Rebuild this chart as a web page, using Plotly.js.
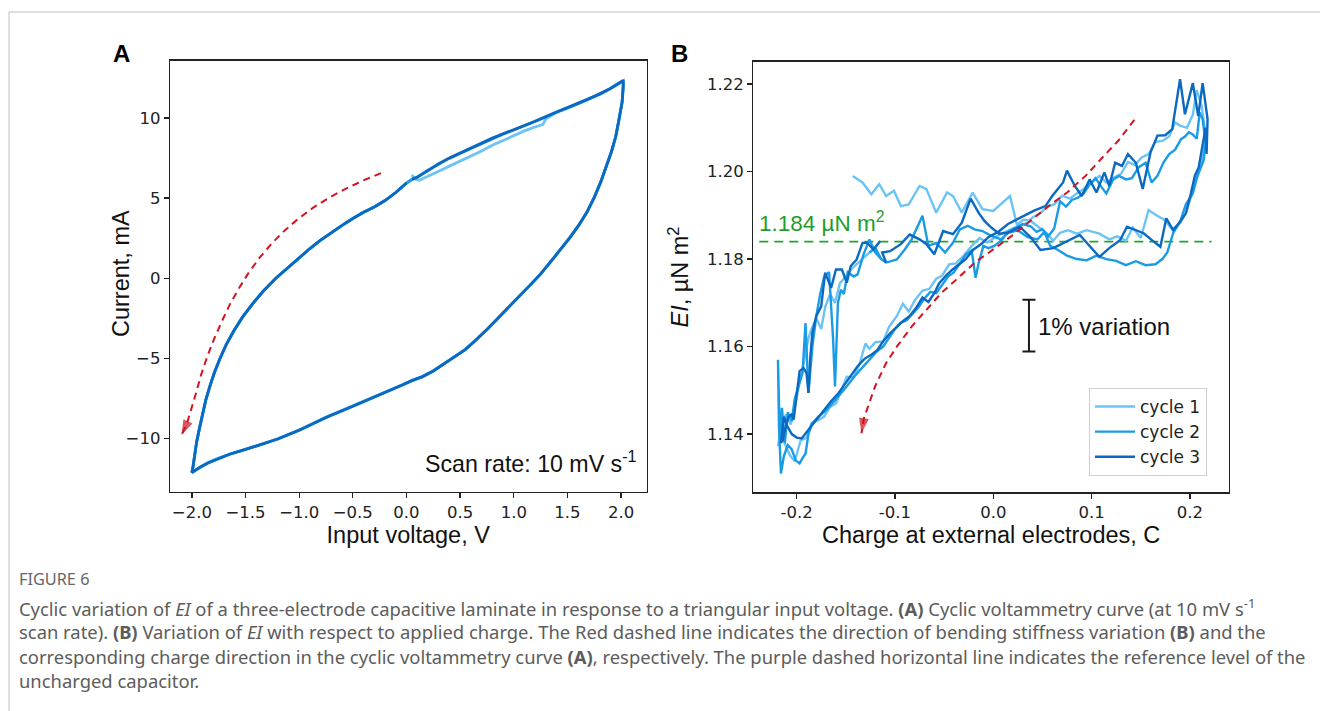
<!DOCTYPE html>
<html>
<head>
<meta charset="utf-8">
<script src="https://cdn.plot.ly/plotly-3.0.1.min.js"></script>
<style>html,body{margin:0;padding:0;background:#fff;}#chart{width:1320px;height:711px;}</style>
</head>
<body>
<div id="chart"></div>
<script>
// ---------------- Panel A: cyclic voltammetry (voltage V, current mA) ----------------
const cvCycle1 = [
 [0.05,6.45],[0.08,6.2],[0.12,6.12],[0.2,6.35],[0.3,6.68],[0.4,7.0],[0.5,7.3],[0.6,7.62],[0.7,7.95],[0.8,8.3],
 [0.9,8.6],[1.0,8.92],[1.1,9.2],[1.2,9.45],[1.27,9.6],[1.3,9.95],[1.4,10.36],[1.5,10.6],[1.6,10.88],[1.7,11.18],
 [1.8,11.48],[1.9,11.83],[1.97,12.12],[2.02,12.3],
 [2.02,11.95],[2.01,11.0],[1.98,9.85],[1.95,8.8],[1.91,7.9],[1.86,6.88],[1.81,6.0],[1.75,5.05],[1.68,4.12],[1.6,3.25],
 [1.52,2.52],[1.43,1.75],[1.35,1.05],[1.25,0.27],[1.15,-0.45],[1.05,-1.13],[0.95,-1.85],[0.85,-2.55],[0.75,-3.2],[0.65,-3.85],
 [0.55,-4.45],[0.45,-4.9],[0.35,-5.35],[0.25,-5.78],[0.15,-6.15],[0.05,-6.4],[-0.05,-6.7],[-0.25,-7.28],[-0.5,-7.98],[-0.75,-8.68],
 [-1.0,-9.48],[-1.2,-10.03],[-1.35,-10.38],[-1.5,-10.68],[-1.65,-10.98],[-1.75,-11.22],[-1.85,-11.52],[-1.92,-11.78],[-1.97,-11.98],[-2.0,-12.12],
 [-1.99,-11.8],[-1.975,-11.0],[-1.955,-10.2],[-1.93,-9.4],[-1.9,-8.5],[-1.87,-7.6],[-1.83,-6.7],[-1.79,-5.9],[-1.74,-5.05],[-1.68,-4.15],
 [-1.61,-3.3],[-1.53,-2.45],[-1.44,-1.65],[-1.34,-0.85],[-1.22,-0.02],[-1.1,0.7],[-1.0,1.28],[-0.9,1.85],[-0.8,2.38],[-0.7,2.85],
 [-0.6,3.3],[-0.5,3.73],[-0.4,4.12],[-0.3,4.45],[-0.2,4.85],[-0.1,5.35],[0.0,5.95],[0.05,6.2]
];
const cvCycle2 = [
 [0.05,6.2],[0.1,6.32],[0.2,6.74],[0.3,7.14],[0.4,7.5],[0.5,7.8],[0.6,8.1],[0.7,8.45],[0.8,8.74],[0.9,9.0],
 [1.0,9.26],[1.1,9.52],[1.2,9.8],[1.3,10.08],[1.4,10.38],[1.5,10.63],[1.6,10.9],[1.7,11.2],[1.8,11.5],[1.9,11.85],
 [1.97,12.15],[2.02,12.33],
 [2.02,12.0],[2.01,11.0],[1.98,9.9],[1.95,8.85],[1.91,7.9],[1.86,6.9],[1.81,6.0],[1.75,5.05],[1.68,4.1],[1.6,3.25],
 [1.52,2.5],[1.43,1.75],[1.35,1.05],[1.25,0.25],[1.15,-0.45],[1.05,-1.15],[0.95,-1.85],[0.85,-2.55],[0.75,-3.2],[0.65,-3.85],
 [0.55,-4.45],[0.45,-4.9],[0.35,-5.35],[0.25,-5.8],[0.15,-6.15],[0.05,-6.4],[-0.05,-6.7],[-0.25,-7.3],[-0.5,-8.0],[-0.75,-8.7],
 [-1.0,-9.5],[-1.2,-10.05],[-1.35,-10.4],[-1.5,-10.7],[-1.65,-11.0],[-1.75,-11.25],[-1.85,-11.55],[-1.92,-11.8],[-1.97,-12.0],[-2.0,-12.15],
 [-1.99,-11.8],[-1.975,-11.0],[-1.955,-10.2],[-1.93,-9.4],[-1.9,-8.5],[-1.87,-7.6],[-1.83,-6.7],[-1.79,-5.9],[-1.74,-5.05],[-1.68,-4.15],
 [-1.61,-3.3],[-1.53,-2.45],[-1.44,-1.65],[-1.34,-0.85],[-1.22,-0.02],[-1.1,0.7],[-1.0,1.28],[-0.9,1.85],[-0.8,2.38],[-0.7,2.85],
 [-0.6,3.3],[-0.5,3.73],[-0.4,4.12],[-0.3,4.45],[-0.2,4.85],[-0.1,5.35],[0.0,5.95],[0.05,6.15]
];
const cvCycle3 = [
 [0.05,6.15],[0.1,6.3],[0.2,6.72],[0.3,7.15],[0.4,7.5],[0.5,7.82],[0.6,8.12],[0.7,8.45],[0.8,8.75],[0.9,9.02],
 [1.0,9.27],[1.1,9.52],[1.2,9.8],[1.3,10.1],[1.4,10.38],[1.5,10.62],[1.6,10.9],[1.7,11.2],[1.8,11.5],[1.9,11.85],
 [1.97,12.15],[2.02,12.35],
 [2.02,12.0],[2.01,11.0],[1.98,9.9],[1.95,8.85],[1.91,7.9],[1.86,6.9],[1.81,6.0],[1.75,5.05],[1.68,4.1],[1.6,3.25],
 [1.52,2.5],[1.43,1.75],[1.35,1.05],[1.25,0.25],[1.15,-0.45],[1.05,-1.15],[0.95,-1.85],[0.85,-2.55],[0.75,-3.2],[0.65,-3.85],
 [0.55,-4.45],[0.45,-4.9],[0.35,-5.35],[0.25,-5.8],[0.15,-6.15],[0.05,-6.4],[-0.05,-6.7],[-0.25,-7.3],[-0.5,-8.0],[-0.75,-8.7],
 [-1.0,-9.5],[-1.2,-10.05],[-1.35,-10.4],[-1.5,-10.7],[-1.65,-11.0],[-1.75,-11.25],[-1.85,-11.55],[-1.92,-11.8],[-1.97,-12.0],[-2.0,-12.15],
 [-1.99,-11.8],[-1.975,-11.0],[-1.955,-10.2],[-1.93,-9.4],[-1.9,-8.5],[-1.87,-7.6],[-1.83,-6.7],[-1.79,-5.9],[-1.74,-5.05],[-1.68,-4.15],
 [-1.61,-3.3],[-1.53,-2.45],[-1.44,-1.65],[-1.34,-0.85],[-1.22,-0.02],[-1.1,0.7],[-1.0,1.28],[-0.9,1.85],[-0.8,2.38],[-0.7,2.85],
 [-0.6,3.3],[-0.5,3.73],[-0.4,4.12],[-0.3,4.45],[-0.2,4.85],[-0.1,5.35],[0.0,5.95]
];
// red direction arrow in panel A (voltage, current); last point is the arrow tip
const dirArrowA = [[-0.238,6.56],[-0.396,6.125],[-0.555,5.625],[-0.713,5.06],[-0.862,4.44],[-1.002,3.75],[-1.132,3.0],
 [-1.253,2.19],[-1.365,1.31],[-1.468,0.375],[-1.561,-0.625],[-1.645,-1.625],[-1.720,-2.69],[-1.794,-3.81],[-1.859,-4.94],
 [-1.915,-6.06],[-1.962,-7.19],[-2.008,-8.25],[-2.045,-9.06],[-2.097,-9.81]];

// ---------------- Panel B: EI (µN m²) versus charge (C) ----------------
const eiCycle1 = [
 [-0.143,1.1990],[-0.133,1.1975],[-0.124,1.1948],[-0.116,1.1971],[-0.109,1.1944],[-0.101,1.1956],[-0.094,1.1921],[-0.086,1.1925],
 [-0.075,1.1967],[-0.068,1.1960],[-0.058,1.1906],[-0.047,1.1952],[-0.041,1.1944],[-0.032,1.1906],[-0.021,1.1952],[-0.011,1.1914],
 [0.000,1.1910],[0.009,1.1928],[0.017,1.1944],[0.024,1.1879],[0.031,1.1890],[0.038,1.1887],[0.045,1.1875],[0.054,1.1860],
 [0.061,1.1842],[0.068,1.1860],[0.076,1.1866],[0.085,1.1858],[0.095,1.1866],[0.108,1.1858],[0.118,1.1845],[0.126,1.1852],
 [0.135,1.1842],[0.142,1.1872],[0.150,1.1848],[0.158,1.1912],[0.166,1.1900],[0.174,1.1890],[0.182,1.1868],[0.190,1.1882],
 [0.196,1.1905],[0.202,1.1950],[0.207,1.1985],[0.211,1.2015],[0.214,1.2045],[0.216,1.2085],
 [0.212,1.2150],[0.207,1.2186],[0.203,1.2130],[0.197,1.2100],[0.190,1.2105],[0.185,1.2112],[0.179,1.2080],[0.172,1.2070],
 [0.165,1.2068],[0.158,1.2040],[0.151,1.2032],[0.144,1.2015],[0.137,1.2022],[0.130,1.1995],[0.122,1.1985],[0.115,1.1975],
 [0.108,1.1990],[0.100,1.1975],[0.092,1.1960],[0.085,1.1950],[0.078,1.1938],[0.070,1.1945],[0.062,1.1925],[0.055,1.1920],
 [0.048,1.1905],[0.040,1.1895],[0.032,1.1880],[0.025,1.1875],[0.018,1.1868],[0.010,1.1860],[0.002,1.1850],
 [-0.006,1.1838],[-0.014,1.1848],[-0.022,1.1830],[-0.030,1.1808],[-0.038,1.1790],[-0.045,1.1788],[-0.052,1.1762],[-0.058,1.1755],
 [-0.065,1.1732],[-0.072,1.1728],[-0.080,1.1705],[-0.086,1.1680],[-0.092,1.1698],[-0.098,1.1670],[-0.106,1.1645],[-0.112,1.1612],
 [-0.120,1.1610],[-0.126,1.1595],[-0.130,1.1607],[-0.136,1.1560],[-0.142,1.1530],[-0.149,1.1531],[-0.155,1.1500],[-0.160,1.1470],
 [-0.166,1.1462],[-0.172,1.1440],[-0.178,1.1432],[-0.185,1.1425],[-0.190,1.1392],[-0.196,1.1385],[-0.202,1.1338],[-0.207,1.1352],
 [-0.212,1.1378],[-0.217,1.1400],[-0.219,1.1372],
 [-0.216,1.1410],[-0.211,1.1445],[-0.206,1.1422],[-0.201,1.1470],[-0.197,1.1520],[-0.193,1.1560],[-0.188,1.1619],[-0.185,1.1640],
 [-0.180,1.1665],[-0.175,1.1640],[-0.171,1.1690],[-0.166,1.1720],[-0.161,1.1700],[-0.156,1.1745],[-0.150,1.1760],[-0.144,1.1778],
 [-0.138,1.1790],[-0.132,1.1802],[-0.126,1.1815]
];
const eiCycle2 = [
 [-0.126,1.1815],[-0.120,1.1825],[-0.114,1.1800],[-0.109,1.1792],[-0.098,1.1799],[-0.090,1.1822],[-0.083,1.1845],[-0.072,1.1899],
 [-0.066,1.1830],[-0.058,1.1837],[-0.049,1.1815],[-0.041,1.1837],[-0.034,1.1868],[-0.026,1.1876],[-0.019,1.1868],[-0.011,1.1864],
 [-0.002,1.1853],[0.008,1.1845],[0.015,1.1860],[0.025,1.1866],[0.035,1.1850],[0.045,1.1845],[0.052,1.1862],[0.058,1.1830],
 [0.065,1.1822],[0.075,1.1808],[0.085,1.1800],[0.095,1.1797],[0.105,1.1808],[0.115,1.1800],[0.125,1.1796],[0.135,1.1786],
 [0.145,1.1795],[0.155,1.1786],[0.165,1.1788],[0.172,1.1800],[0.177,1.1815],[0.183,1.1859],[0.190,1.1885],[0.196,1.1925],
 [0.203,1.1950],[0.207,1.1985],[0.210,1.2003],[0.214,1.2026],[0.216,1.2065],
 [0.213,1.2120],[0.210,1.2135],[0.207,1.2075],[0.203,1.2085],[0.199,1.2090],[0.195,1.2080],[0.191,1.2074],[0.185,1.2050],
 [0.179,1.2040],[0.173,1.2020],[0.167,1.1990],[0.161,1.1975],[0.155,1.2020],[0.148,1.2010],[0.141,1.1985],[0.135,1.1982],
 [0.128,1.1990],[0.122,1.1982],[0.115,1.1950],[0.110,1.1965],[0.104,1.1985],[0.098,1.1970],[0.092,1.1950],[0.086,1.1940],
 [0.080,1.1935],[0.074,1.1920],[0.068,1.1932],[0.062,1.1870],[0.056,1.1852],[0.050,1.1868],[0.044,1.1862],[0.038,1.1875],
 [0.030,1.1880],[0.022,1.1870],[0.015,1.1862],[0.008,1.1842],[0.001,1.1830],[-0.005,1.1825],[-0.010,1.1830],[-0.015,1.1790],
 [-0.018,1.1757],[-0.022,1.1820],[-0.028,1.1810],[-0.034,1.1790],[-0.040,1.1770],[-0.046,1.1760],[-0.052,1.1740],[-0.058,1.1722],
 [-0.064,1.1725],[-0.070,1.1710],[-0.076,1.1690],[-0.082,1.1675],[-0.088,1.1660],[-0.094,1.1655],[-0.100,1.1640],[-0.106,1.1620],
 [-0.112,1.1600],[-0.118,1.1590],[-0.124,1.1575],[-0.130,1.1560],[-0.136,1.1545],[-0.142,1.1530],[-0.148,1.1512],[-0.154,1.1495],
 [-0.160,1.1480],[-0.166,1.1465],[-0.172,1.1450],[-0.178,1.1440],[-0.184,1.1425],[-0.188,1.1400],[-0.191,1.1355],[-0.194,1.1345],
 [-0.197,1.1333],[-0.201,1.1340],[-0.205,1.1365],[-0.209,1.1375],[-0.213,1.1350],[-0.216,1.1310],[-0.218,1.1420],[-0.219,1.1570],
 [-0.217,1.1380],[-0.215,1.1460],[-0.212,1.1380],[-0.209,1.1450],[-0.205,1.1430],[-0.202,1.1480],[-0.198,1.1510],[-0.194,1.1540],
 [-0.191,1.1654],[-0.188,1.1494],[-0.184,1.1600],[-0.180,1.1670],[-0.176,1.1720],[-0.172,1.1760],[-0.167,1.1770],[-0.163,1.1620],
 [-0.161,1.1509],[-0.158,1.1700],[-0.155,1.1730],[-0.152,1.1720],[-0.148,1.1770],[-0.142,1.1760],[-0.138,1.1765],[-0.132,1.1810],
 [-0.126,1.1845],[-0.120,1.1815],[-0.114,1.1800],[-0.109,1.1792]
];
const eiCycle3 = [
 [-0.109,1.1792],[-0.113,1.1815],[-0.105,1.1818],[-0.094,1.1834],[-0.085,1.1856],[-0.075,1.1845],[-0.068,1.1834],[-0.060,1.1811],
 [-0.051,1.1864],[-0.041,1.1857],[-0.032,1.1883],[-0.023,1.1938],[-0.015,1.1906],[-0.009,1.1887],[-0.002,1.1872],[0.006,1.1858],
 [0.015,1.1860],[0.027,1.1874],[0.038,1.1850],[0.048,1.1821],[0.061,1.1825],[0.075,1.1840],[0.088,1.1855],[0.098,1.1830],
 [0.108,1.1805],[0.118,1.1825],[0.129,1.1843],[0.136,1.1874],[0.145,1.1866],[0.153,1.1859],[0.162,1.1842],[0.170,1.1828],
 [0.176,1.1893],[0.183,1.1866],[0.190,1.1885],[0.196,1.1905],[0.201,1.1950],[0.205,1.1990],[0.209,1.2010],[0.213,1.2060],
 [0.216,1.2100],[0.217,1.2040],[0.218,1.2120],
 [0.213,1.2202],[0.2085,1.2127],[0.203,1.2202],[0.195,1.2131],[0.190,1.2211],[0.182,1.2097],[0.175,1.2083],[0.167,1.2082],
 [0.160,1.2044],[0.152,1.1960],[0.145,1.2020],[0.137,1.2040],[0.131,1.2013],[0.124,1.2020],[0.118,1.1967],[0.113,1.1998],
 [0.105,1.1952],[0.098,1.1982],[0.090,1.1944],[0.083,1.1967],[0.075,1.2002],[0.071,1.1975],[0.060,1.1944],[0.053,1.1921],
 [0.041,1.1910],[0.030,1.1898],[0.015,1.1880],[0.005,1.1862],
 [-0.005,1.1850],[-0.012,1.1835],[-0.020,1.1822],[-0.028,1.1800],[-0.035,1.1788],[-0.042,1.1775],[-0.048,1.1762],[-0.055,1.1745],
 [-0.060,1.1722],[-0.066,1.1702],[-0.072,1.1712],[-0.078,1.1690],[-0.085,1.1670],[-0.092,1.1658],[-0.098,1.1645],[-0.105,1.1630],
 [-0.112,1.1612],[-0.118,1.1592],[-0.125,1.1580],[-0.131,1.1572],[-0.138,1.1555],[-0.145,1.1532],[-0.152,1.1510],[-0.158,1.1492],
 [-0.165,1.1475],[-0.172,1.1455],[-0.178,1.1440],[-0.185,1.1420],[-0.190,1.1405],[-0.195,1.1390],[-0.200,1.1392],[-0.205,1.1400],
 [-0.210,1.1420],[-0.213,1.1440],[-0.216,1.1380],[-0.214,1.1387],[-0.211,1.1420],[-0.208,1.1440],[-0.205,1.1445],[-0.203,1.1433],
 [-0.200,1.1490],[-0.197,1.1544],[-0.193,1.1551],[-0.190,1.1540],[-0.188,1.1494],[-0.186,1.1580],[-0.184,1.1631],[-0.180,1.1670],
 [-0.175,1.1692],[-0.171,1.1769],[-0.165,1.1734],[-0.160,1.1776],[-0.154,1.1776],[-0.149,1.1746],[-0.145,1.1784],[-0.139,1.1799],
 [-0.133,1.1837],[-0.128,1.1837],[-0.122,1.1822],[-0.115,1.1841]
];
const cycleNames = ['cycle 1','cycle 2','cycle 3'];
// reference level of uncharged capacitor
const refEI = 1.184;
const refChargeSpan = [-0.238, 0.222];
const refLabel = '1.184 µN m<sup>2</sup>';
// 1 % variation scale bar
const scaleBarCharge = 0.0363;
const scaleBarCenter = 1.1648;
const scaleBarHalf = 0.00592;   // half of 1 % of 1.184
// red direction arrow in panel B (charge, EI); last point is the arrow tip
const dirArrowB = [[0.1435,1.2118],[0.1278,1.2072],[0.1127,1.2036],[0.0939,1.1990],[0.0751,1.1952],[0.0563,1.1921],[0.0376,1.1887],
 [0.0188,1.1853],[0.0,1.1822],[-0.0188,1.1792],[-0.0376,1.1753],[-0.0526,1.1723],[-0.0676,1.1685],[-0.0826,1.1647],[-0.0977,1.1601],
 [-0.1089,1.1563],[-0.1202,1.1509],[-0.1277,1.1463],[-0.1315,1.1437],[-0.1341,1.1402]];

// tick labels
const xTicksA = [-2,-1.5,-1,-0.5,0,0.5,1,1.5,2];
const xTickTextA = ['\u22122.0','\u22121.5','\u22121.0','\u22120.5','0.0','0.5','1.0','1.5','2.0'];
const yTicksA = [-10,-5,0,5,10];
const yTickTextA = ['\u221210','\u22125','0','5','10'];
const xTicksB = [-0.2,-0.1,0,0.1,0.2];
const xTickTextB = ['-0.2','-0.1','0.0','0.1','0.2'];
const yTicksB = [1.14,1.16,1.18,1.20,1.22];
const yTickTextB = ['1.14','1.16','1.18','1.20','1.22'];

const captionHead = 'FIGURE 6';
const captionLines = [
 'Cyclic variation of <i>EI</i> of a three-electrode capacitive laminate in response to a triangular input voltage. <b>(A)</b> Cyclic voltammetry curve (at 10 mV s<sup>-1</sup>',
 'scan rate). <b>(B)</b> Variation of <i>EI</i> with respect to applied charge. The Red dashed line indicates the direction of bending stiffness variation <b>(B)</b> and the',
 'corresponding charge direction in the cyclic voltammetry curve <b>(A)</b>, respectively. The purple dashed horizontal line indicates the reference level of the',
 'uncharged capacitor.'
];

// ---------------- build figure ----------------
const W = 1320, H = 711;
const px = v => v / W, py = v => 1 - v / H;
const cycleColors = ['#6cc4f6', '#1a9be6', '#0b69c2'];
const xs = a => a.map(p => p[0]), ys = a => a.map(p => p[1]);
const headSizes = a => a.map((p, i) => i === a.length - 1 ? 16 : 0);

const traces = [];
[cvCycle1, cvCycle2, cvCycle3].forEach((c, i) => traces.push({
  x: xs(c), y: ys(c), xaxis: 'x', yaxis: 'y', mode: 'lines', name: cycleNames[i], showlegend: false,
  line: {color: cycleColors[i], width: 2.8}, hoverinfo: 'skip'
}));
traces.push({x: xs(dirArrowA), y: ys(dirArrowA), xaxis: 'x', yaxis: 'y', mode: 'lines+markers', showlegend: false,
  line: {color: '#d6121f', width: 2, dash: '7px,5px'},
  marker: {symbol: 'arrow', size: headSizes(dirArrowA), angleref: 'previous', color: '#c8101c', line: {width: 0}},
  hoverinfo: 'skip'});

traces.push({x: refChargeSpan, y: [refEI, refEI], xaxis: 'x2', yaxis: 'y2', mode: 'lines', showlegend: false,
  line: {color: '#22a32f', width: 1.8, dash: '9px,6px'}, hoverinfo: 'skip'});
[eiCycle1, eiCycle2, eiCycle3].forEach((c, i) => traces.push({
  x: xs(c), y: ys(c), xaxis: 'x2', yaxis: 'y2', mode: 'lines', name: cycleNames[i], legendgroup: 'g' + i,
  line: {color: cycleColors[i], width: 2.4}, hoverinfo: 'skip'
}));
traces.push({x: xs(dirArrowB), y: ys(dirArrowB), xaxis: 'x2', yaxis: 'y2', mode: 'lines+markers', showlegend: false,
  line: {color: '#d6121f', width: 2, dash: '7px,5px'},
  marker: {symbol: 'arrow', size: headSizes(dirArrowB), angleref: 'previous', color: '#c8101c', line: {width: 0}},
  hoverinfo: 'skip'});
traces.push({x: [scaleBarCharge], y: [scaleBarCenter], xaxis: 'x2', yaxis: 'y2', mode: 'markers', showlegend: false,
  marker: {size: 1, color: 'rgba(0,0,0,0)'},
  error_y: {type: 'data', array: [scaleBarHalf], visible: true, color: '#1a1a1a', thickness: 2, width: 6.5}, hoverinfo: 'skip'});

const axisStyle = {
  showline: true, mirror: true, linecolor: '#222', linewidth: 1.3, ticks: 'outside', ticklen: 5, tickwidth: 1.3,
  tickcolor: '#222', showgrid: false, zeroline: false, automargin: false, fixedrange: true,
  tickfont: {family: 'DejaVu Sans', size: 16.5, color: '#222'}
};
const titleFont = {family: 'Liberation Sans, Arial, sans-serif', size: 23.5, color: '#111'};

const annotations = [
  {xref: 'paper', yref: 'paper', x: px(121.7), y: py(54), text: '<b>A</b>', showarrow: false, xanchor: 'center', yanchor: 'middle',
   font: {family: 'Liberation Sans, Arial', size: 24, color: '#000'}},
  {xref: 'paper', yref: 'paper', x: px(679), y: py(54), text: '<b>B</b>', showarrow: false, xanchor: 'center', yanchor: 'middle',
   font: {family: 'Liberation Sans, Arial', size: 24, color: '#000'}},
  {xref: 'paper', yref: 'paper', x: px(121), y: py(273), text: 'Current, mA', showarrow: false, textangle: -90,
   xanchor: 'center', yanchor: 'middle', font: titleFont},
  {xref: 'paper', yref: 'paper', x: px(639), y: py(462), text: 'Scan rate: 10 mV s<sup>-1</sup>', showarrow: false,
   xanchor: 'right', yanchor: 'middle', font: {family: 'Liberation Sans, Arial', size: 23.2, color: '#111'}},
  {xref: 'paper', yref: 'paper', x: px(757), y: py(222), text: refLabel, showarrow: false,
   xanchor: 'left', yanchor: 'middle', font: {family: 'Liberation Sans, Arial', size: 22.5, color: '#1f9e2d'}},
  {xref: 'paper', yref: 'paper', x: px(1036), y: py(326), text: '1% variation', showarrow: false,
   xanchor: 'left', yanchor: 'middle', font: {family: 'Liberation Sans, Arial', size: 24, color: '#111'}},
  {xref: 'paper', yref: 'paper', x: px(17), y: py(579), text: captionHead, showarrow: false, xanchor: 'left', yanchor: 'middle',
   font: {family: 'Noto Sans', size: 16.3, color: '#666'}}
];
const lineY = [607, 631.5, 656, 680];
captionLines.forEach((t, i) => annotations.push({xref: 'paper', yref: 'paper', x: px(17), y: py(lineY[i]), text: t,
  showarrow: false, xanchor: 'left', yanchor: 'middle', font: {family: 'Noto Sans', size: 18.4, color: '#5c5c5c'}}));

const layout = {
  width: W, height: H, margin: {l: 0, r: 0, t: 0, b: 0}, paper_bgcolor: '#fff', plot_bgcolor: '#fff',
  showlegend: true,
  xaxis: Object.assign({}, axisStyle, {domain: [px(170), px(646.5)], range: [-2.204, 2.237], anchor: 'y',
    tickvals: xTicksA, ticktext: xTickTextA, title: {text: 'Input voltage, V', font: titleFont, standoff: 0}}),
  yaxis: Object.assign({}, axisStyle, {domain: [py(492), py(60.5)], range: [-13.36, 13.6], anchor: 'x',
    tickvals: yTicksA, ticktext: yTickTextA}),
  xaxis2: Object.assign({}, axisStyle, {domain: [px(753.3), px(1229)], range: [-0.2441, 0.2398], anchor: 'y2',
    tickvals: xTicksB, ticktext: xTickTextB, title: {text: 'Charge at external electrodes, C', font: titleFont, standoff: 2}}),
  yaxis2: Object.assign({}, axisStyle, {domain: [py(492.3), py(61.7)], range: [1.1267, 1.2251], anchor: 'x2',
    tickvals: yTicksB, ticktext: yTickTextB, title: {text: '<i>EI</i>, µN m<sup>2</sup>', font: titleFont, standoff: 11}}),
  legend: {x: px(1207), xanchor: 'right', y: py(476), yanchor: 'bottom', bgcolor: 'rgba(255,255,255,0.85)',
    bordercolor: '#cfcfcf', borderwidth: 1, font: {family: 'DejaVu Sans', size: 17, color: '#222'},
    tracegroupgap: 0, itemwidth: 40},
  annotations: annotations,
  shapes: [
    {type: 'line', xref: 'paper', yref: 'paper', x0: px(9), x1: 1, y0: py(12), y1: py(12), line: {color: '#d4d4d4', width: 1.5}},
    {type: 'line', xref: 'paper', yref: 'paper', x0: px(9), x1: px(9), y0: py(12), y1: 0, line: {color: '#d4d4d4', width: 1.5}}
  ]
};
Plotly.newPlot('chart', traces, layout, {staticPlot: true, displayModeBar: false});
</script>
</body>
</html>
